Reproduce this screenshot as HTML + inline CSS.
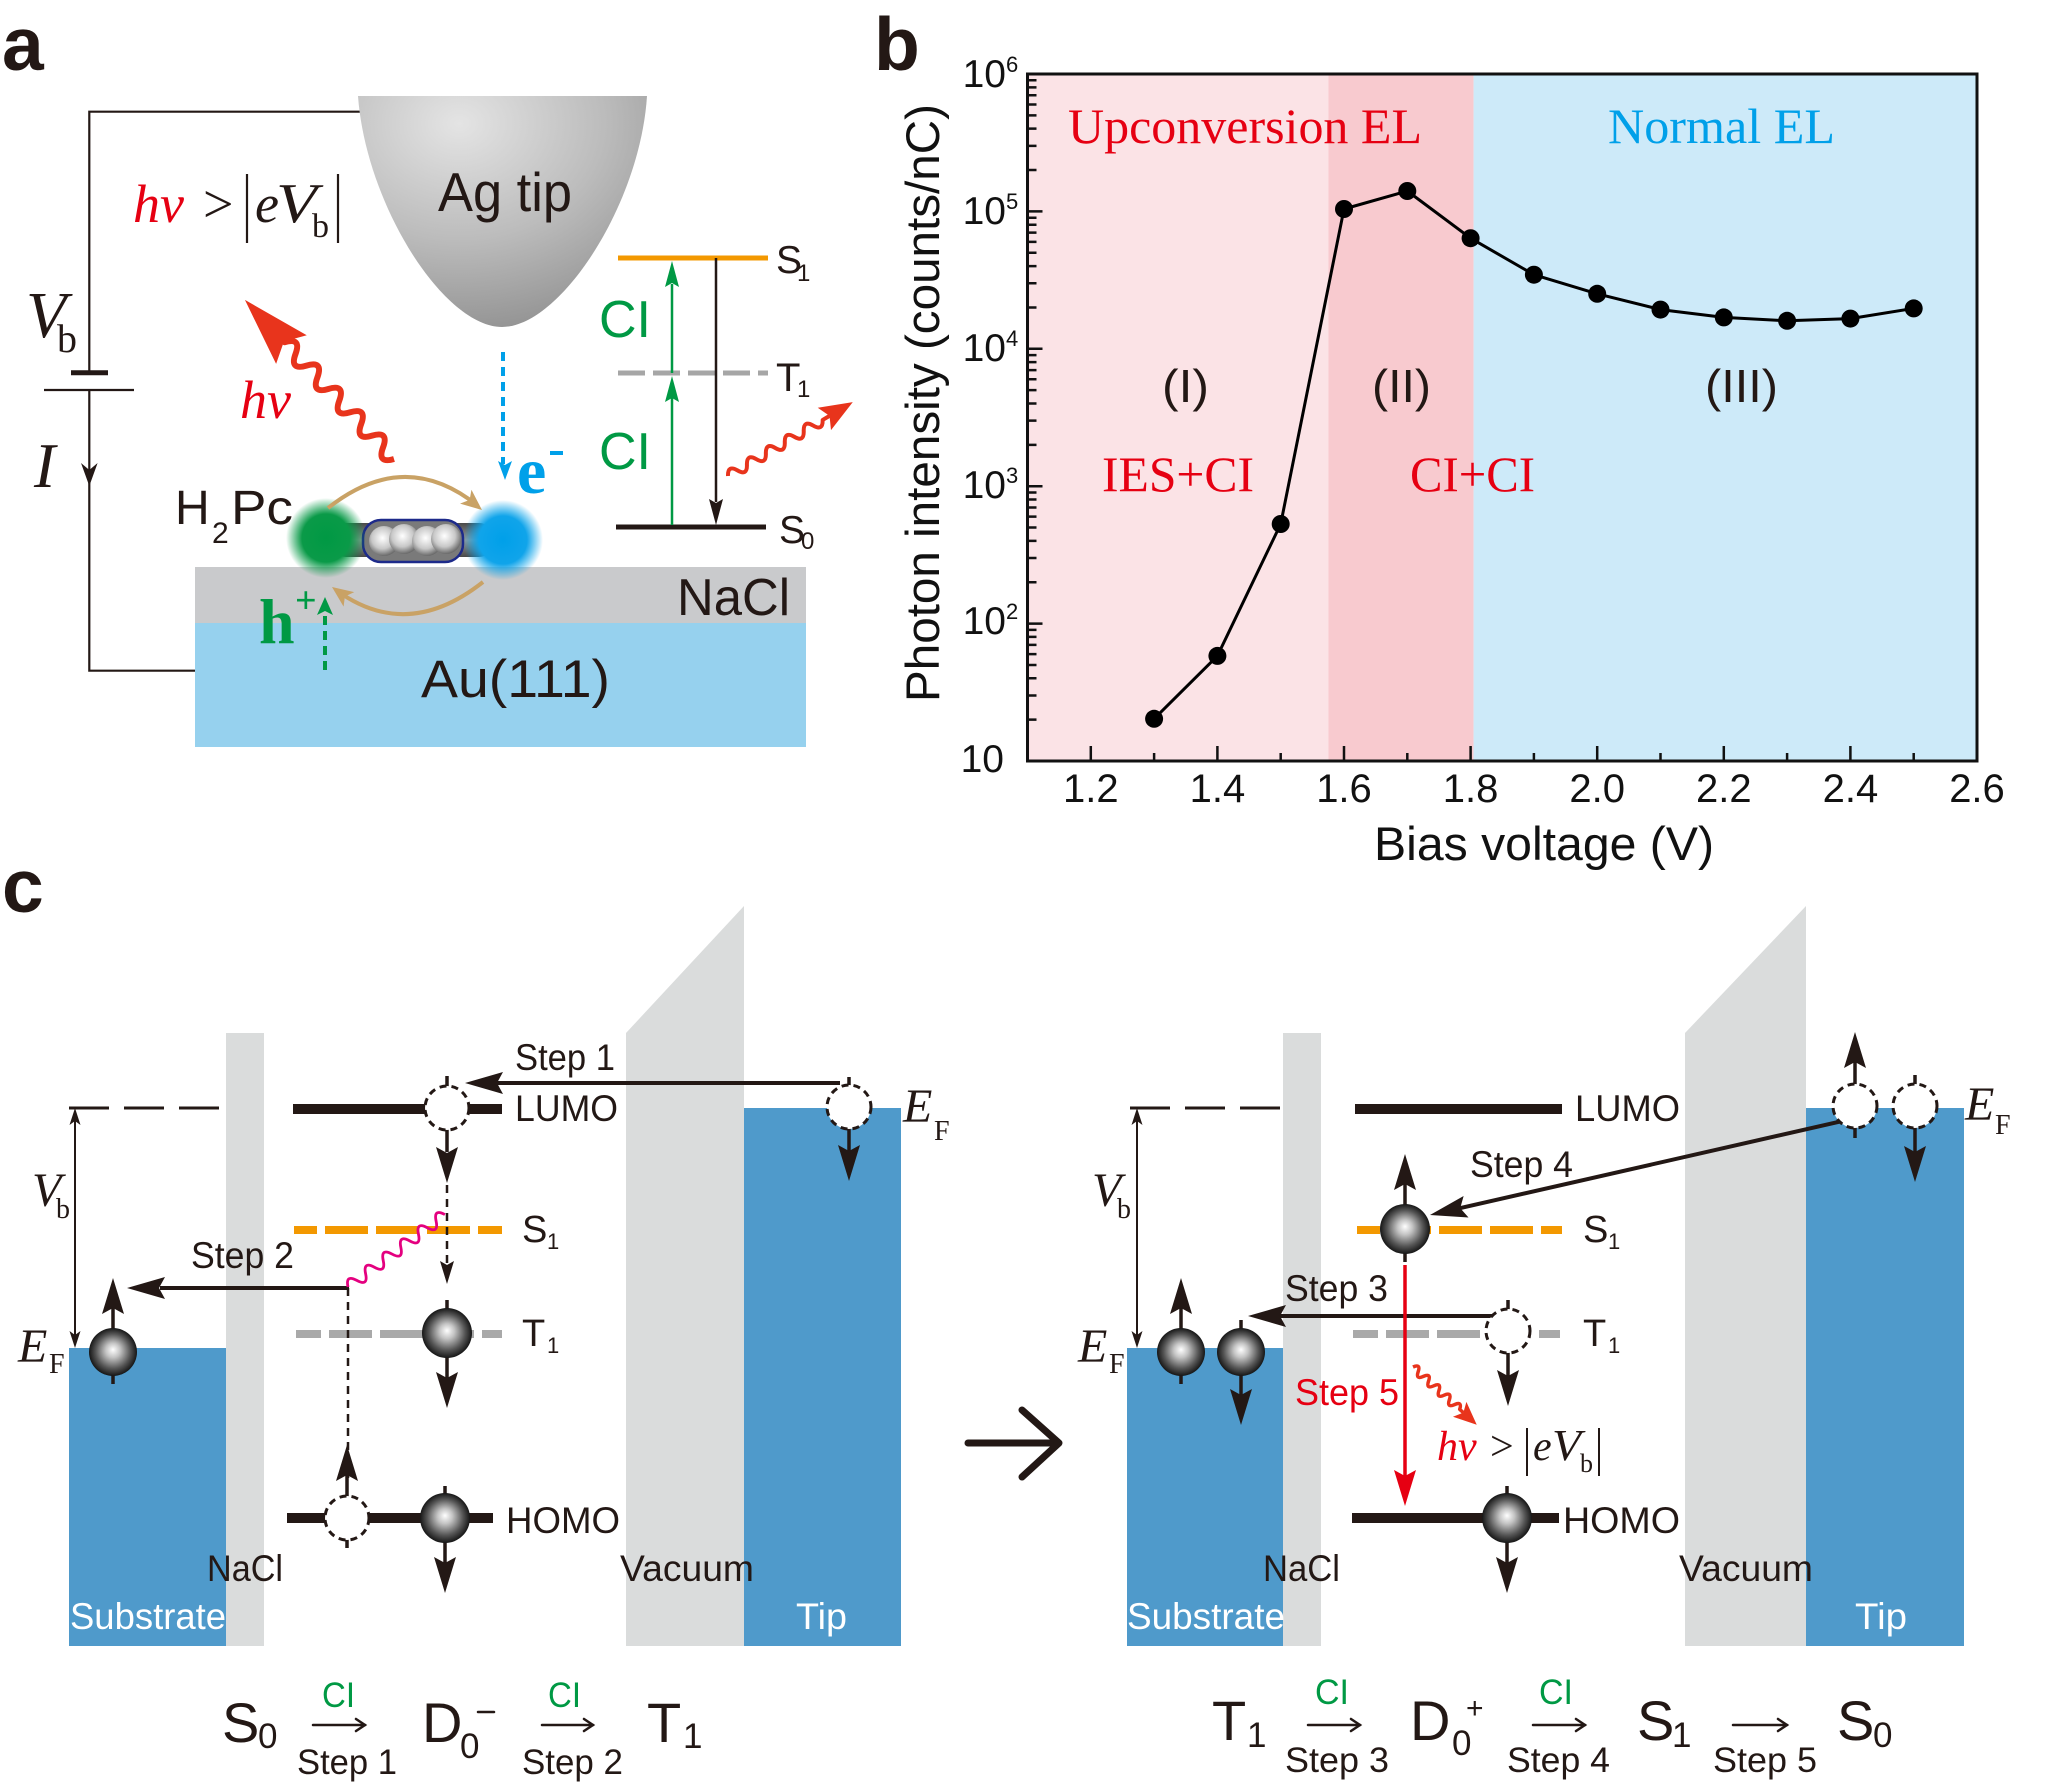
<!DOCTYPE html>
<html><head><meta charset="utf-8"><style>
html,body{margin:0;padding:0;background:#fff;}
svg{display:block;}
.s{font-family:"Liberation Sans",Arial,sans-serif;}
.r{font-family:"Liberation Serif","Times New Roman",serif;}
</style></head><body>
<svg width="2048" height="1787" viewBox="0 0 2048 1787" xmlns="http://www.w3.org/2000/svg">
<defs>
<radialGradient id="ball" cx="0.5" cy="0.5" r="0.5" fx="0.5" fy="0.45">
<stop offset="0" stop-color="#ffffff"/><stop offset="0.3" stop-color="#c4c4c4"/><stop offset="0.72" stop-color="#555"/><stop offset="1" stop-color="#161616"/></radialGradient>
<radialGradient id="tipg" cx="0.35" cy="0.12" r="1">
<stop offset="0" stop-color="#e4e4e4"/><stop offset="0.5" stop-color="#bcbcbc"/><stop offset="1" stop-color="#8a8a8a"/></radialGradient>
<radialGradient id="gg" cx="0.5" cy="0.5" r="0.5">
<stop offset="0" stop-color="#009944"/><stop offset="0.6" stop-color="#0a9a48"/><stop offset="1" stop-color="#009944" stop-opacity="0"/></radialGradient>
<radialGradient id="bg" cx="0.5" cy="0.5" r="0.5">
<stop offset="0" stop-color="#00a0e9"/><stop offset="0.6" stop-color="#10a4ea"/><stop offset="1" stop-color="#00a0e9" stop-opacity="0"/></radialGradient>
<radialGradient id="sph" cx="0.45" cy="0.4" r="0.6">
<stop offset="0" stop-color="#ffffff"/><stop offset="0.6" stop-color="#c8c8c8"/><stop offset="1" stop-color="#6a6a6a"/></radialGradient>
<linearGradient id="body" x1="0" y1="0" x2="0" y2="1">
<stop offset="0" stop-color="#4a4a4a"/><stop offset="0.5" stop-color="#9a9a9a"/><stop offset="1" stop-color="#4a4a4a"/></linearGradient>
</defs>

<!-- ================= PANEL A ================= -->
<text x="2" y="70" class="s" font-size="75" font-weight="bold" fill="#231815">a</text>
<!-- circuit -->
<g stroke="#231815" fill="none" stroke-width="2.2">
<path d="M362 111.7 H89.3 V372.7"/>
<path d="M89.3 390 V670.7 H196"/>
<line x1="44" y1="390" x2="134" y2="390"/>
</g>
<line x1="71" y1="372.7" x2="108" y2="372.7" stroke="#231815" stroke-width="5"/>
<polygon points="89.3,486 81,463 89.3,470 97.6,463" fill="#231815"/>
<text x="26" y="337" class="r" font-size="66" font-style="italic" fill="#231815">V</text>
<text x="57" y="352" class="r" font-size="40" fill="#231815">b</text>
<text x="34" y="487" class="r" font-size="64" font-style="italic" fill="#231815">I</text>
<!-- hv > |eVb| -->
<text x="133" y="222" class="r" font-size="54" font-style="italic" fill="#e60012">hν</text>
<text x="203" y="222" class="r" font-size="54" fill="#231815">&gt;</text>
<line x1="247" y1="174" x2="247" y2="243" stroke="#231815" stroke-width="2.2"/>
<text x="255" y="222" class="r" font-size="54" font-style="italic" fill="#231815">e</text>
<text x="276" y="222" class="r" font-size="56" font-style="italic" fill="#231815" textLength="41" lengthAdjust="spacingAndGlyphs">V</text>
<text x="312" y="237" class="r" font-size="34" fill="#231815">b</text>
<line x1="338" y1="174" x2="338" y2="243" stroke="#231815" stroke-width="2.2"/>
<!-- tip -->
<path d="M358 96 L647 96 C640 205 560 327 502 327 C444 327 366 205 358 96 Z" fill="url(#tipg)"/>
<text x="438" y="211" class="s" font-size="55" fill="#231815" textLength="134" lengthAdjust="spacingAndGlyphs">Ag tip</text>
<!-- left red wavy photon -->
<g transform="translate(394,459) rotate(-133.14)">
<path d="M0,0 q8,-16 16,0 t16,0 t16,0 t16,0 t16,0 t16,0 t16,0 t16,0 t16,0 t16,0 l6,0" fill="none" stroke="#e8341c" stroke-width="6" stroke-linejoin="round"/>
<polygon points="218,0 150,-21 161,0 150,21" fill="#e8341c"/>
</g>
<text x="240" y="418" class="r" font-size="54" font-style="italic" fill="#e60012">hν</text>
<!-- electron arrow -->
<line x1="503" y1="352" x2="503" y2="464" stroke="#00a0e9" stroke-width="4" stroke-dasharray="9 6"/>
<polygon points="505,480 498,461 505,465 512,461" fill="#00a0e9"/>
<text x="517" y="493" class="r" font-size="66" font-weight="bold" fill="#00a0e9">e</text>
<line x1="550" y1="453" x2="563" y2="453" stroke="#00a0e9" stroke-width="4"/>
<!-- substrate -->
<rect x="195" y="567" width="611" height="56" fill="#c9cacc"/>
<rect x="195" y="623" width="611" height="124" fill="#96d1ee"/>
<text x="677" y="615" class="s" font-size="52" fill="#231815" textLength="113" lengthAdjust="spacingAndGlyphs">NaCl</text>
<text x="421" y="697" class="s" font-size="53" fill="#231815" textLength="189" lengthAdjust="spacingAndGlyphs">Au(111)</text>
<!-- molecule -->
<rect x="330" y="523" width="165" height="34" rx="16" fill="url(#body)"/>
<rect x="363" y="520" width="100" height="42" rx="18" fill="#7a7a7a" stroke="#1d2a8a" stroke-width="2.5"/>
<circle cx="384" cy="541" r="15" fill="url(#sph)"/>
<circle cx="404" cy="539" r="15" fill="url(#sph)"/>
<circle cx="427" cy="541" r="15" fill="url(#sph)"/>
<circle cx="446" cy="539" r="15" fill="url(#sph)"/>
<circle cx="326" cy="538" r="40" fill="url(#gg)"/>
<circle cx="503" cy="540" r="40" fill="url(#bg)"/>
<!-- golden arcs -->
<path d="M328 508 Q405 447 478 506" fill="none" stroke="#c9a265" stroke-width="4"/>
<g transform="translate(482,510) rotate(39.3)"><polygon points="0,0 -21,-9 -16,0 -21,9" fill="#c9a265"/></g>
<path d="M483 582 Q407 642 336 590" fill="none" stroke="#c9a265" stroke-width="4"/>
<g transform="translate(332,587) rotate(216.3)"><polygon points="0,0 -21,-9 -16,0 -21,9" fill="#c9a265"/></g>
<!-- H2Pc -->
<text x="175" y="524" class="s" font-size="48" fill="#231815">H</text>
<text x="212" y="543" class="s" font-size="30" fill="#231815">2</text>
<text x="231" y="524" class="s" font-size="48" fill="#231815" textLength="62" lengthAdjust="spacingAndGlyphs">Pc</text>
<!-- h+ -->
<text x="259" y="643" class="r" font-size="64" font-weight="bold" fill="#009944">h</text>
<text x="295" y="613" class="r" font-size="38" font-weight="bold" fill="#009944">+</text>
<line x1="325" y1="670" x2="325" y2="611" stroke="#009944" stroke-width="4" stroke-dasharray="9 6"/>
<polygon points="325,597 317,615 325,611 333,615" fill="#009944"/>
<!-- energy inset -->
<line x1="618" y1="258" x2="768" y2="258" stroke="#f39800" stroke-width="5"/>
<line x1="618" y1="373" x2="768" y2="373" stroke="#a6a6a6" stroke-width="5" stroke-dasharray="27 8"/>
<line x1="616" y1="527" x2="766" y2="527" stroke="#231815" stroke-width="5"/>
<line x1="672" y1="525" x2="672" y2="398" stroke="#009944" stroke-width="2.5"/>
<polygon points="672,376 665,402 672,398 679,402" fill="#009944"/>
<line x1="672" y1="373" x2="672" y2="284" stroke="#009944" stroke-width="2.5"/>
<polygon points="672,261 665,287 672,283 679,287" fill="#009944"/>
<line x1="716" y1="258" x2="716" y2="502" stroke="#231815" stroke-width="2.5"/>
<polygon points="716,525 709,499 716,503 723,499" fill="#231815"/>
<text x="599" y="337" class="s" font-size="52" fill="#009944" textLength="52" lengthAdjust="spacingAndGlyphs">CI</text>
<text x="599" y="469" class="s" font-size="52" fill="#009944" textLength="52" lengthAdjust="spacingAndGlyphs">CI</text>
<text x="776" y="273" class="s" font-size="39" fill="#231815">S</text>
<text x="797" y="281" class="s" font-size="24" fill="#231815">1</text>
<text x="776" y="391" class="s" font-size="40" fill="#231815">T</text>
<text x="797" y="397" class="s" font-size="24" fill="#231815">1</text>
<text x="779" y="543" class="s" font-size="39" fill="#231815">S</text>
<text x="801" y="549" class="s" font-size="24" fill="#231815">0</text>
<g transform="translate(728,476) rotate(-30.63)">
<path d="M0,0 q5.5,-10 11,0 t11,0 t11,0 t11,0 t11,0 t11,0 t11,0 t11,0 t11,0 t11,0 l8,0" fill="none" stroke="#e8341c" stroke-width="4" stroke-linejoin="round"/>
<polygon points="145,0 112,-13 118,0 112,13" fill="#e8341c"/>
</g>

<!-- ================= PANEL B ================= -->
<text x="874" y="70" class="s" font-size="75" font-weight="bold" fill="#231815">b</text>
<rect x="1027.5" y="74" width="301" height="687" fill="#fbe3e6"/>
<rect x="1328.5" y="74" width="145.1" height="687" fill="#f8cacf"/>
<rect x="1473.6" y="74" width="503.4" height="687" fill="#cdeaf9"/>
<text x="1068" y="143" class="r" font-size="50" fill="#e60012" textLength="354" lengthAdjust="spacingAndGlyphs">Upconversion EL</text>
<text x="1608" y="143" class="r" font-size="50" fill="#00a0e9" textLength="227" lengthAdjust="spacingAndGlyphs">Normal EL</text>
<text x="1162" y="402" class="s" font-size="46" fill="#231815" textLength="47" lengthAdjust="spacingAndGlyphs">(I)</text>
<text x="1372" y="402" class="s" font-size="46" fill="#231815" textLength="59" lengthAdjust="spacingAndGlyphs">(II)</text>
<text x="1705" y="402" class="s" font-size="46" fill="#231815" textLength="73" lengthAdjust="spacingAndGlyphs">(III)</text>
<text x="1102" y="491" class="r" font-size="50" fill="#e60012" textLength="152" lengthAdjust="spacingAndGlyphs">IES+CI</text>
<text x="1410" y="491" class="r" font-size="50" fill="#e60012" textLength="125" lengthAdjust="spacingAndGlyphs">CI+CI</text>
<g stroke="#111" stroke-width="2.5" fill="none">
<path d="M1027.5 719.64h9M1027.5 695.44h9M1027.5 678.28h9M1027.5 664.96h9M1027.5 654.08h9M1027.5 644.88h9M1027.5 636.92h9M1027.5 629.89h9
M1027.5 582.24h9M1027.5 558.04h9M1027.5 540.88h9M1027.5 527.56h9M1027.5 516.68h9M1027.5 507.48h9M1027.5 499.52h9M1027.5 492.49h9
M1027.5 444.84h9M1027.5 420.64h9M1027.5 403.48h9M1027.5 390.16h9M1027.5 379.28h9M1027.5 370.08h9M1027.5 362.12h9M1027.5 355.09h9
M1027.5 307.44h9M1027.5 283.24h9M1027.5 266.08h9M1027.5 252.76h9M1027.5 241.88h9M1027.5 232.68h9M1027.5 224.72h9M1027.5 217.69h9
M1027.5 170.04h9M1027.5 145.84h9M1027.5 128.68h9M1027.5 115.36h9M1027.5 104.48h9M1027.5 95.28h9M1027.5 87.32h9M1027.5 80.29h9"/>
<path d="M1027.5 623.6h15M1027.5 486.2h15M1027.5 348.8h15M1027.5 211.4h15"/>
<path d="M1090.8 761v-15M1217.4 761v-15M1344 761v-15M1470.6 761v-15M1597.2 761v-15M1723.8 761v-15M1850.4 761v-15"/>
<path d="M1154.1 761v-8M1280.7 761v-8M1407.3 761v-8M1533.9 761v-8M1660.5 761v-8M1787.1 761v-8M1913.7 761v-8"/>
</g>
<rect x="1027.5" y="74" width="949.5" height="687" fill="none" stroke="#111" stroke-width="3"/>
<polyline points="1154.1,718.8 1217.4,655.9 1280.7,524 1344,209 1407.3,191 1470.6,238.2 1533.9,274.7 1597.2,293.8 1660.5,309.6 1723.8,317.4 1787.1,320.8 1850.4,318.6 1913.7,308.4" fill="none" stroke="#000" stroke-width="3" stroke-linejoin="round"/>
<g fill="#000">
<circle cx="1154.1" cy="718.8" r="9"/><circle cx="1217.4" cy="655.9" r="9"/><circle cx="1280.7" cy="524" r="9"/><circle cx="1344" cy="209" r="9"/><circle cx="1407.3" cy="191" r="9"/><circle cx="1470.6" cy="238.2" r="9"/><circle cx="1533.9" cy="274.7" r="9"/><circle cx="1597.2" cy="293.8" r="9"/><circle cx="1660.5" cy="309.6" r="9"/><circle cx="1723.8" cy="317.4" r="9"/><circle cx="1787.1" cy="320.8" r="9"/><circle cx="1850.4" cy="318.6" r="9"/><circle cx="1913.7" cy="308.4" r="9"/>
</g>
<g class="s" font-size="40" fill="#111" text-anchor="middle">
<text x="1090.8" y="802">1.2</text><text x="1217.4" y="802">1.4</text><text x="1344" y="802">1.6</text><text x="1470.6" y="802">1.8</text><text x="1597.2" y="802">2.0</text><text x="1723.8" y="802">2.2</text><text x="1850.4" y="802">2.4</text><text x="1977" y="802">2.6</text>
</g>
<g class="s" fill="#111">
<text x="1006" y="87" font-size="39" text-anchor="end">10</text><text x="1006" y="72" font-size="22">6</text>
<text x="1006" y="224" font-size="39" text-anchor="end">10</text><text x="1006" y="209" font-size="22">5</text>
<text x="1006" y="361" font-size="39" text-anchor="end">10</text><text x="1006" y="346" font-size="22">4</text>
<text x="1006" y="498" font-size="39" text-anchor="end">10</text><text x="1006" y="483" font-size="22">3</text>
<text x="1006" y="634" font-size="39" text-anchor="end">10</text><text x="1006" y="619" font-size="22">2</text>
<text x="1004" y="772" font-size="39" text-anchor="end">10</text>
</g>
<text x="1544" y="860" class="s" font-size="47" fill="#111" text-anchor="middle" textLength="340" lengthAdjust="spacingAndGlyphs">Bias voltage (V)</text>
<text transform="translate(939,403) rotate(-90)" x="0" y="0" class="s" font-size="47" fill="#111" text-anchor="middle" textLength="598" lengthAdjust="spacingAndGlyphs">Photon intensity (counts/nC)</text>

<!-- ================= PANEL C ================= -->
<text x="2" y="912" class="s" font-size="75" font-weight="bold" fill="#231815">c</text>

<!-- ---- left diagram ---- -->
<rect x="69" y="1348" width="157" height="298" fill="#4f9acb"/>
<rect x="226" y="1033" width="38" height="613" fill="#dadcdc"/>
<polygon points="626,1033 744,906 744,1646 626,1646" fill="#dadcdc"/>
<rect x="744" y="1108" width="157" height="538" fill="#4f9acb"/>
<line x1="69" y1="1108" x2="220" y2="1108" stroke="#231815" stroke-width="3" stroke-dasharray="40 15"/>
<line x1="75" y1="1120" x2="75" y2="1336" stroke="#231815" stroke-width="2"/>
<polygon points="75,1108 69.5,1125 75,1121 80.5,1125" fill="#231815"/>
<polygon points="75,1348 69.5,1331 75,1335 80.5,1331" fill="#231815"/>
<text x="32" y="1206" class="r" font-size="48" font-style="italic" fill="#231815">V</text>
<text x="56" y="1218" class="r" font-size="28" fill="#231815">b</text>
<text x="18" y="1362" class="r" font-size="48" font-style="italic" fill="#231815">E</text>
<text x="49" y="1373" class="r" font-size="28" fill="#231815">F</text>
<line x1="293" y1="1109" x2="502" y2="1109" stroke="#231815" stroke-width="10"/>
<line x1="294" y1="1230" x2="502" y2="1230" stroke="#f39800" stroke-width="8" stroke-dasharray="43 8" stroke-dashoffset="20"/>
<line x1="296" y1="1334" x2="502" y2="1334" stroke="#a9a9a9" stroke-width="8" stroke-dasharray="43 8" stroke-dashoffset="18"/>
<line x1="287" y1="1518" x2="493" y2="1518" stroke="#231815" stroke-width="10"/>
<!-- step 1 -->
<line x1="840" y1="1083" x2="496" y2="1083" stroke="#231815" stroke-width="4"/>
<polygon points="465,1083 503,1072 497,1083 503,1094" fill="#231815"/>
<!-- LUMO circle arrows -->
<line x1="447" y1="1076" x2="447" y2="1152" stroke="#231815" stroke-width="3.5"/>
<polygon points="447,1183 436,1147 447,1153 458,1147" fill="#231815"/>
<line x1="447" y1="1185" x2="447" y2="1264" stroke="#231815" stroke-width="2.5" stroke-dasharray="8 6"/>
<polygon points="447,1284 440,1261 447,1265 454,1261" fill="#231815"/>
<!-- step 2 -->
<line x1="349" y1="1288" x2="160" y2="1288" stroke="#231815" stroke-width="4"/>
<polygon points="127,1288 165,1277 159,1288 165,1299" fill="#231815"/>
<line x1="348" y1="1288" x2="348" y2="1478" stroke="#231815" stroke-width="2.5" stroke-dasharray="8 6"/>
<line x1="347" y1="1548" x2="347" y2="1470" stroke="#231815" stroke-width="3.5"/>
<polygon points="347,1445 336,1481 347,1475 358,1481" fill="#231815"/>
<!-- T1 ball arrow -->
<line x1="447" y1="1300" x2="447" y2="1380" stroke="#231815" stroke-width="3.5"/>
<polygon points="447,1408 436,1372 447,1378 458,1372" fill="#231815"/>
<line x1="445" y1="1486" x2="445" y2="1565" stroke="#231815" stroke-width="3.5"/>
<polygon points="445,1593 434,1557 445,1563 456,1557" fill="#231815"/>
<line x1="113" y1="1384" x2="113" y2="1305" stroke="#231815" stroke-width="3.5"/>
<polygon points="113,1278 102,1314 113,1308 124,1314" fill="#231815"/>
<line x1="849" y1="1077" x2="849" y2="1152" stroke="#231815" stroke-width="3.5"/>
<polygon points="849,1181 838,1145 849,1151 860,1145" fill="#231815"/>
<!-- pink wave -->
<g transform="translate(348,1287) rotate(-36.78)">
<path d="M0,0 q5.5,-12 11,0 t11,0 t11,0 t11,0 t11,0 t11,0 t11,0 t11,0 t11,0 t11,0 t11,0" fill="none" stroke="#e4007f" stroke-width="2.8"/>
</g>
<g fill="#fff" stroke="#231815" stroke-width="3" stroke-dasharray="7 5">
<circle cx="447" cy="1108" r="22"/><circle cx="347" cy="1518" r="22"/><circle cx="849" cy="1107" r="22"/>
</g>
<g fill="url(#ball)">
<circle cx="447" cy="1333" r="25"/><circle cx="445" cy="1518" r="25"/><circle cx="113" cy="1352" r="24"/>
</g>
<g class="s" fill="#231815">
<text x="515" y="1070" font-size="37" textLength="100" lengthAdjust="spacingAndGlyphs">Step 1</text>
<text x="515" y="1121" font-size="37" textLength="103" lengthAdjust="spacingAndGlyphs">LUMO</text>
<text x="522" y="1242" font-size="38">S</text><text x="547" y="1249" font-size="22">1</text>
<text x="191" y="1268" font-size="37" textLength="103" lengthAdjust="spacingAndGlyphs">Step 2</text>
<text x="522" y="1346" font-size="38">T</text><text x="547" y="1353" font-size="22">1</text>
<text x="506" y="1533" font-size="37" textLength="114" lengthAdjust="spacingAndGlyphs">HOMO</text>
<text x="207" y="1581" font-size="37" textLength="76" lengthAdjust="spacingAndGlyphs">NaCl</text>
<text x="620" y="1581" font-size="37" textLength="134" lengthAdjust="spacingAndGlyphs">Vacuum</text>
<text x="70" y="1629" font-size="37" fill="#fff" textLength="156" lengthAdjust="spacingAndGlyphs">Substrate</text>
<text x="796" y="1629" font-size="37" fill="#fff" textLength="51" lengthAdjust="spacingAndGlyphs">Tip</text>
</g>
<text x="903" y="1122" class="r" font-size="48" font-style="italic" fill="#231815">E</text>
<text x="934" y="1140" class="r" font-size="28" fill="#231815">F</text>

<!-- big arrow -->
<g stroke="#231815" stroke-width="7" fill="none" stroke-linecap="round" stroke-linejoin="round">
<line x1="968" y1="1443" x2="1056" y2="1443"/>
<polyline points="1022,1410 1059,1443 1022,1477"/>
</g>

<!-- ---- right diagram ---- -->
<rect x="1127" y="1348" width="156" height="298" fill="#4f9acb"/>
<rect x="1283" y="1033" width="38" height="613" fill="#dadcdc"/>
<polygon points="1685,1033 1806,906 1806,1646 1685,1646" fill="#dadcdc"/>
<rect x="1806" y="1108" width="158" height="538" fill="#4f9acb"/>
<line x1="1130" y1="1108" x2="1283" y2="1108" stroke="#231815" stroke-width="3" stroke-dasharray="40 15"/>
<line x1="1137" y1="1120" x2="1137" y2="1336" stroke="#231815" stroke-width="2"/>
<polygon points="1137,1108 1131.5,1125 1137,1121 1142.5,1125" fill="#231815"/>
<polygon points="1137,1348 1131.5,1331 1137,1335 1142.5,1331" fill="#231815"/>
<text x="1092" y="1206" class="r" font-size="48" font-style="italic" fill="#231815">V</text>
<text x="1117" y="1218" class="r" font-size="28" fill="#231815">b</text>
<text x="1078" y="1362" class="r" font-size="48" font-style="italic" fill="#231815">E</text>
<text x="1109" y="1373" class="r" font-size="28" fill="#231815">F</text>
<line x1="1355" y1="1109" x2="1562" y2="1109" stroke="#231815" stroke-width="10"/>
<line x1="1357" y1="1230" x2="1562" y2="1230" stroke="#f39800" stroke-width="8" stroke-dasharray="43 8" stroke-dashoffset="20"/>
<line x1="1353" y1="1334" x2="1560" y2="1334" stroke="#a9a9a9" stroke-width="8" stroke-dasharray="43 8" stroke-dashoffset="18"/>
<line x1="1352" y1="1518" x2="1559" y2="1518" stroke="#231815" stroke-width="10"/>
<!-- step 4 -->
<g transform="translate(1430,1215) rotate(-12.84)">
<line x1="30" y1="0" x2="420" y2="0" stroke="#231815" stroke-width="4"/>
<polygon points="0,0 37,-11 31,0 37,11" fill="#231815"/>
</g>
<!-- step 3 -->
<line x1="1495" y1="1316" x2="1280" y2="1316" stroke="#231815" stroke-width="4"/>
<polygon points="1248,1316 1286,1305 1280,1316 1286,1327" fill="#231815"/>
<!-- T1 circle arrow -->
<line x1="1508" y1="1300" x2="1508" y2="1378" stroke="#231815" stroke-width="3.5"/>
<polygon points="1508,1406 1497,1370 1508,1376 1519,1370" fill="#231815"/>
<!-- S1 ball -->
<line x1="1405" y1="1262" x2="1405" y2="1180" stroke="#231815" stroke-width="3.5"/>
<polygon points="1405,1154 1394,1190 1405,1184 1416,1190" fill="#231815"/>
<line x1="1405" y1="1265" x2="1405" y2="1478" stroke="#e60012" stroke-width="3.5"/>
<polygon points="1405,1506 1394,1470 1405,1476 1416,1470" fill="#e60012"/>
<!-- HOMO ball -->
<line x1="1507" y1="1486" x2="1507" y2="1565" stroke="#231815" stroke-width="3.5"/>
<polygon points="1507,1593 1496,1557 1507,1563 1518,1557" fill="#231815"/>
<!-- substrate balls -->
<line x1="1181" y1="1384" x2="1181" y2="1305" stroke="#231815" stroke-width="3.5"/>
<polygon points="1181,1278 1170,1314 1181,1308 1192,1314" fill="#231815"/>
<line x1="1241" y1="1320" x2="1241" y2="1398" stroke="#231815" stroke-width="3.5"/>
<polygon points="1241,1425 1230,1389 1241,1395 1252,1389" fill="#231815"/>
<!-- tip circles -->
<line x1="1855" y1="1138" x2="1855" y2="1060" stroke="#231815" stroke-width="3.5"/>
<polygon points="1855,1032 1844,1068 1855,1062 1866,1068" fill="#231815"/>
<line x1="1915" y1="1075" x2="1915" y2="1154" stroke="#231815" stroke-width="3.5"/>
<polygon points="1915,1182 1904,1146 1915,1152 1926,1146" fill="#231815"/>
<!-- red small wave -->
<g transform="translate(1413,1367) rotate(42.18)">
<path d="M0,0 q3.5,-8 7,0 t7,0 t7,0 t7,0 t7,0 t7,0 t7,0 t7,0 t7,0 l5,0" fill="none" stroke="#e8341c" stroke-width="3.5" stroke-linejoin="round"/>
<polygon points="86,0 63,-10 68,0 63,10" fill="#e8341c"/>
</g>
<g fill="#fff" stroke="#231815" stroke-width="3" stroke-dasharray="7 5">
<circle cx="1508" cy="1331" r="22"/><circle cx="1855" cy="1106" r="22"/><circle cx="1915" cy="1106" r="22"/>
</g>
<g fill="url(#ball)">
<circle cx="1405" cy="1229" r="25"/><circle cx="1507" cy="1518" r="25"/><circle cx="1181" cy="1352" r="24"/><circle cx="1241" cy="1352" r="24"/>
</g>
<g class="s" fill="#231815">
<text x="1575" y="1121" font-size="37" textLength="105" lengthAdjust="spacingAndGlyphs">LUMO</text>
<text x="1470" y="1177" font-size="37" textLength="103" lengthAdjust="spacingAndGlyphs">Step 4</text>
<text x="1583" y="1242" font-size="38">S</text><text x="1608" y="1249" font-size="22">1</text>
<text x="1285" y="1301" font-size="37" textLength="103" lengthAdjust="spacingAndGlyphs">Step 3</text>
<text x="1583" y="1346" font-size="38">T</text><text x="1608" y="1353" font-size="22">1</text>
<text x="1295" y="1405" font-size="37" fill="#e60012" textLength="104" lengthAdjust="spacingAndGlyphs">Step 5</text>
<text x="1563" y="1533" font-size="37" textLength="117" lengthAdjust="spacingAndGlyphs">HOMO</text>
<text x="1263" y="1581" font-size="37" textLength="77" lengthAdjust="spacingAndGlyphs">NaCl</text>
<text x="1679" y="1581" font-size="37" textLength="134" lengthAdjust="spacingAndGlyphs">Vacuum</text>
<text x="1127" y="1629" font-size="37" fill="#fff" textLength="158" lengthAdjust="spacingAndGlyphs">Substrate</text>
<text x="1855" y="1629" font-size="37" fill="#fff" textLength="52" lengthAdjust="spacingAndGlyphs">Tip</text>
</g>
<text x="1965" y="1120" class="r" font-size="48" font-style="italic" fill="#231815">E</text>
<text x="1995" y="1134" class="r" font-size="28" fill="#231815">F</text>
<!-- hv > |eVb| right -->
<text x="1437" y="1460" class="r" font-size="42" font-style="italic" fill="#e60012">hν</text>
<text x="1490" y="1460" class="r" font-size="42" fill="#231815">&gt;</text>
<line x1="1527" y1="1428" x2="1527" y2="1476" stroke="#231815" stroke-width="2"/>
<text x="1533" y="1460" class="r" font-size="42" font-style="italic" fill="#231815">e</text>
<text x="1552" y="1460" class="r" font-size="44" font-style="italic" fill="#231815" textLength="29" lengthAdjust="spacingAndGlyphs">V</text>
<text x="1580" y="1472" class="r" font-size="26" fill="#231815">b</text>
<line x1="1599" y1="1428" x2="1599" y2="1476" stroke="#231815" stroke-width="2"/>

<!-- equations -->
<g class="s" fill="#231815">
<text x="222" y="1742" font-size="56">S</text><text x="258" y="1748" font-size="35">0</text>
<text x="322" y="1707" font-size="35" fill="#009944" textLength="33" lengthAdjust="spacingAndGlyphs">CI</text>
<text x="297" y="1774" font-size="35" textLength="100" lengthAdjust="spacingAndGlyphs">Step 1</text>
<text x="422" y="1742" font-size="56">D</text><text x="460" y="1758" font-size="35">0</text>
<text x="548" y="1707" font-size="35" fill="#009944" textLength="33" lengthAdjust="spacingAndGlyphs">CI</text>
<text x="522" y="1774" font-size="35" textLength="101" lengthAdjust="spacingAndGlyphs">Step 2</text>
<text x="647" y="1742" font-size="56">T</text><text x="683" y="1748" font-size="35">1</text>

<text x="1212" y="1740" font-size="56">T</text><text x="1247" y="1747" font-size="35">1</text>
<text x="1315" y="1704" font-size="35" fill="#009944" textLength="34" lengthAdjust="spacingAndGlyphs">CI</text>
<text x="1285" y="1772" font-size="35" textLength="104" lengthAdjust="spacingAndGlyphs">Step 3</text>
<text x="1410" y="1740" font-size="56">D</text><text x="1452" y="1755" font-size="35">0</text>
<text x="1466" y="1718" font-size="30">+</text>
<text x="1539" y="1704" font-size="35" fill="#009944" textLength="34" lengthAdjust="spacingAndGlyphs">CI</text>
<text x="1507" y="1772" font-size="35" textLength="103" lengthAdjust="spacingAndGlyphs">Step 4</text>
<text x="1637" y="1740" font-size="56">S</text><text x="1672" y="1747" font-size="35">1</text>
<text x="1713" y="1772" font-size="35" textLength="104" lengthAdjust="spacingAndGlyphs">Step 5</text>
<text x="1837" y="1740" font-size="56">S</text><text x="1873" y="1747" font-size="35">0</text>
</g>
<g stroke="#231815" stroke-width="2.5" fill="none" stroke-linecap="round">
<line x1="313" y1="1725" x2="365" y2="1725"/><polyline points="356,1719 365,1725 356,1731"/>
<line x1="478" y1="1712" x2="494" y2="1712"/>
<line x1="542" y1="1725" x2="593" y2="1725"/><polyline points="584,1719 593,1725 584,1731"/>
<line x1="1308" y1="1725" x2="1360" y2="1725"/><polyline points="1351,1719 1360,1725 1351,1731"/>
<line x1="1533" y1="1725" x2="1585" y2="1725"/><polyline points="1576,1719 1585,1725 1576,1731"/>
<line x1="1733" y1="1725" x2="1787" y2="1725"/><polyline points="1778,1719 1787,1725 1778,1731"/>
</g>
</svg>
</body></html>
